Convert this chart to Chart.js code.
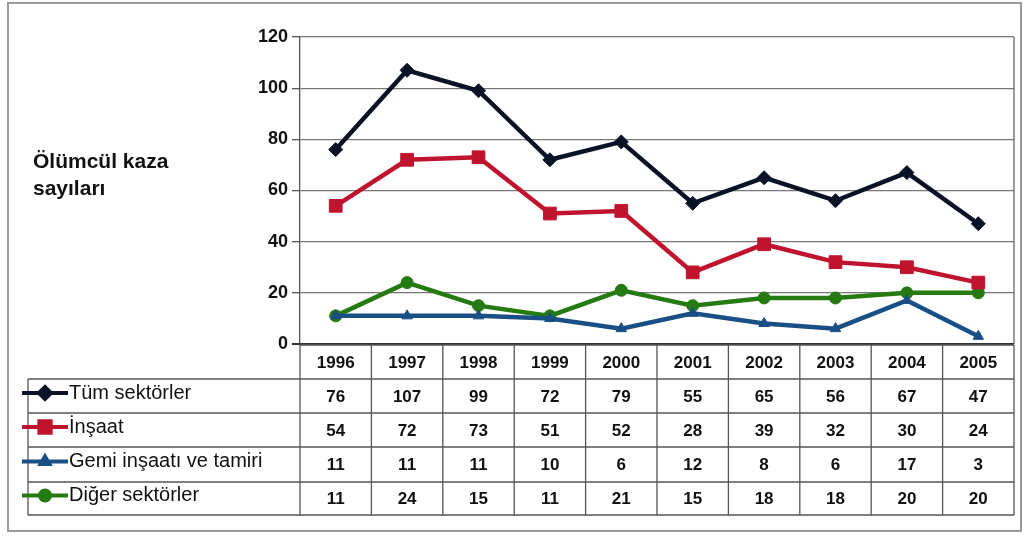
<!DOCTYPE html>
<html>
<head>
<meta charset="utf-8">
<script src="https://cdn.jsdelivr.net/npm/chart.js@4.4.0/dist/chart.umd.min.js"></script>
<style>
  html, body { margin: 0; padding: 0; background: #fff; }
  #wrap { width: 1024px; height: 538px; position: relative; }
</style>
</head>
<body>
<div id="wrap"><canvas id="chart" width="1024" height="538"></canvas></div>
<script>
var years = ['1996', '1997', '1998', '1999', '2000', '2001', '2002', '2003', '2004', '2005'];
var seriesNames = ['Tüm sektörler', 'İnşaat', 'Gemi inşaatı ve tamiri', 'Diğer sektörler'];
var tum = [76, 107, 99, 72, 79, 55, 65, 56, 67, 47];
var insaat = [54, 72, 73, 51, 52, 28, 39, 32, 30, 24];
var gemi = [11, 11, 11, 10, 6, 12, 8, 6, 17, 3];
var diger = [11, 24, 15, 11, 21, 15, 18, 18, 20, 20];
var yTicks = [0, 20, 40, 60, 80, 100, 120];

var colors = ['#0a1226', '#c0142e', '#1a4f85', '#267a12'];
var shapes = ['rectRot', 'rect', 'triangle', 'circle'];
var sizes = [7, 9, 6, 6];

function ds(i, data) {
  return {
    label: seriesNames[i],
    data: data,
    borderColor: colors[i],
    backgroundColor: colors[i],
    borderWidth: 4.5,
    pointStyle: shapes[i],
    pointRadius: sizes[i],
    pointBorderWidth: 1,
    tension: 0
  };
}

var font = 'Liberation Sans, Arial, sans-serif';

var tablePlugin = {
  id: 'dataTable',
  afterDraw: function (chart) {
    var ctx = chart.ctx;
    var x = chart.scales.x;
    var area = chart.chartArea;
    var colW = (area.right - area.left) / years.length;
    var rowTops = [345, 379, 413, 447, 482, 515];
    var all = [tum, insaat, gemi, diger];
    ctx.save();

    // outer frame
    ctx.strokeStyle = '#9a9a9a';
    ctx.lineWidth = 2;
    ctx.strokeRect(8, 3, 1013, 528);

    // side label
    ctx.fillStyle = '#111';
    ctx.font = 'bold 21px ' + font;
    ctx.textAlign = 'left';
    ctx.textBaseline = 'middle';
    ctx.fillText('Ölümcül kaza', 33, 162);
    ctx.fillText('sayıları', 33, 189);

    // table grid
    ctx.strokeStyle = '#555';
    ctx.lineWidth = 1.3;
    ctx.beginPath();
    for (var r = 0; r < rowTops.length; r++) {
      var l = r === 0 ? area.left : 28;
      ctx.moveTo(l, rowTops[r]);
      ctx.lineTo(area.right, rowTops[r]);
    }
    for (var c = 0; c <= years.length; c++) {
      var cx = area.left + c * colW;
      ctx.moveTo(cx, rowTops[0]);
      ctx.lineTo(cx, rowTops[5]);
    }
    ctx.moveTo(28, rowTops[1]);
    ctx.lineTo(28, rowTops[5]);
    ctx.stroke();

    // header years
    ctx.fillStyle = '#111';
    ctx.font = 'bold 17px ' + font;
    ctx.textAlign = 'center';
    for (var i = 0; i < years.length; i++) {
      ctx.fillText(years[i], x.getPixelForValue(i), (rowTops[0] + rowTops[1]) / 2 + 1);
    }

    // rows
    for (var s = 0; s < all.length; s++) {
      var cy = (rowTops[s + 1] + rowTops[s + 2]) / 2;
      ctx.font = 'bold 17px ' + font;
      ctx.textAlign = 'center';
      ctx.fillStyle = '#111';
      for (var j = 0; j < years.length; j++) {
        ctx.fillText(String(all[s][j]), x.getPixelForValue(j), cy + 1);
      }
      // legend sample
      ctx.strokeStyle = colors[s];
      ctx.lineWidth = 4;
      ctx.beginPath();
      ctx.moveTo(22, cy - 3);
      ctx.lineTo(68, cy - 3);
      ctx.stroke();
      ctx.fillStyle = colors[s];
      Chart.helpers.drawPoint(ctx, { pointStyle: shapes[s], radius: sizes[s] - 1, borderWidth: 1 }, 45, cy - 3);
      ctx.fill();
      ctx.fillStyle = '#111';
      ctx.font = '20px ' + font;
      ctx.textAlign = 'left';
      ctx.fillText(seriesNames[s], 69, cy - 3);
    }
    ctx.restore();
  }
};

new Chart(document.getElementById('chart'), {
  type: 'line',
  data: {
    labels: years,
    datasets: [ds(0, tum), ds(1, insaat), ds(2, gemi), ds(3, diger)]
  },
  options: {
    responsive: false,
    animation: false,
    layout: { padding: { left: 0, top: 37, right: 2, bottom: 194 } },
    plugins: { legend: { display: false }, tooltip: { enabled: false } },
    scales: {
      x: {
        type: 'category',
        display: false,
        offset: true
      },
      y: {
        min: 0,
        max: 120,
        afterBuildTicks: function (s) { s.ticks = yTicks.map(function (v) { return { value: v }; }); },
        afterFit: function (s) { s.width = 300; },
        border: { color: '#555', width: 1.3 },
        grid: { color: '#777', lineWidth: 1.3, tickLength: 8, tickColor: '#555' },
        ticks: { color: '#111', font: { family: font, size: 18, weight: 'bold' }, padding: 4 }
      }
    }
  },
  plugins: [tablePlugin, {
    id: 'plotBorder',
    beforeDatasetsDraw: function (chart) {
      var a = chart.chartArea, ctx = chart.ctx;
      ctx.save();
      ctx.strokeStyle = '#666';
      ctx.lineWidth = 1.3;
      ctx.beginPath();
      ctx.moveTo(a.right, a.top);
      ctx.lineTo(a.right, a.bottom);
      ctx.stroke();
      ctx.strokeStyle = '#333';
      ctx.lineWidth = 2;
      ctx.beginPath();
      ctx.moveTo(a.left - 8, a.bottom);
      ctx.lineTo(a.right, a.bottom);
      ctx.stroke();
      ctx.restore();
    }
  }]
});
</script>
</body>
</html>
